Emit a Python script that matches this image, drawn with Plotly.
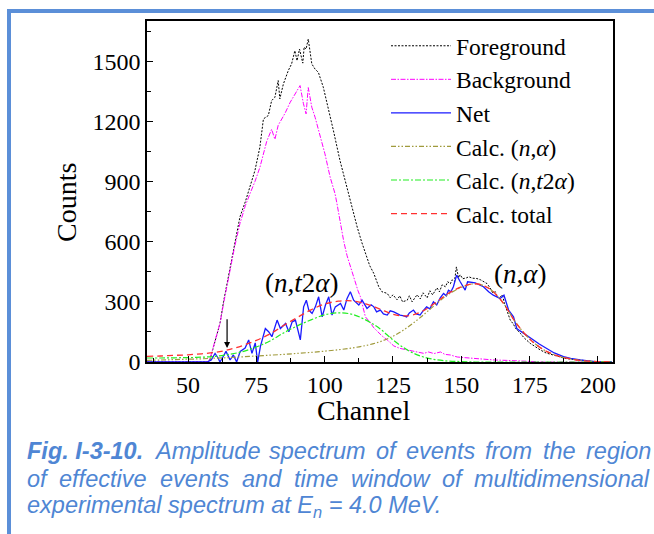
import plotly.graph_objects as go

# ---------------- data ----------------
fg_ch = [35, 57, 58, 60, 61.7, 63, 65.4, 67, 69, 71, 72.7, 74.5, 76.3, 77.6, 79.4, 80.6, 81.8, 83, 83.6,
         84.9, 86.7, 87.9, 89.1, 89.9, 90.8, 92, 92.5, 93.2, 94, 95.3, 96.5, 97.7, 99.5, 101.3, 103.2,
         105.6, 108.1, 110, 111.9, 113.5, 114.9, 116.5, 118, 119, 119.8, 121, 122.9, 124, 125, 126.5,
         127.5, 128.5, 130.2, 131, 132, 133.8, 135, 136, 137.5, 138.5, 139.5, 141.1, 142, 143, 144.2,
         145, 146, 146.6, 147.5, 148.2, 149, 149.6, 150.5, 152, 152.7, 154, 155.7, 157, 158.5, 159.4,
         160.5, 161.5, 162.5, 163.1, 164, 165, 165.8, 166.5, 167.9, 169, 170, 171.6, 173, 175.2, 177,
         178.9, 181, 183.8, 186, 188, 191, 194, 198, 202, 205]
fg_counts = [0, 0, 10, 110, 192, 300, 474, 590, 723, 800, 880, 955, 1071, 1212, 1229, 1303, 1320, 1403, 1312,
             1386, 1453, 1486, 1552, 1502, 1560, 1490, 1570, 1560, 1610, 1486, 1460, 1444, 1370, 1270, 1154,
             1005, 872, 770, 673, 600, 541, 480, 441, 400, 375, 350, 342, 320, 335, 310,
             330, 300, 308, 330, 300, 335, 315, 345, 320, 355, 335, 370, 350, 385, 375,
             400, 390, 410, 400, 474, 420, 435, 415, 420, 425, 418, 416, 410, 400, 391,
             370, 345, 350, 325, 320, 335, 292, 260, 209, 190, 165, 143, 120, 93, 75,
             60, 45, 35, 25, 18, 13, 8, 3, 0, 0]

bg_ch = [35, 57, 58, 60, 61.7, 63, 65.4, 67, 69, 71, 72.7, 74.5, 76.3, 77.6, 78.8, 80.6, 81.8, 83, 85.5,
         87.4, 89.2, 91, 92.2, 93.2, 94, 95.3, 96.5, 98.3, 100.1, 102, 103.8, 104.5, 105.8, 107, 108.2,
         109.4, 110.5, 111.3, 112.2, 113.1, 114, 114.9, 116.5, 118, 119.5, 121, 122.9, 125.3, 127.5,
         130.2, 133, 136.3, 138, 140, 142.4, 144, 146, 148.5, 151, 154.6, 158, 162, 166.7, 170, 175,
         180, 205]
bg_counts = [0, 0, 15, 110, 192, 290, 460, 570, 690, 780, 840, 900, 970, 1040, 1100, 1160, 1110, 1180, 1240,
             1295, 1337, 1378, 1290, 1237, 1368, 1270, 1220, 1129, 1038, 922, 839, 790, 690, 600, 530,
             474, 430, 391, 355, 325, 270, 225, 200, 170, 150, 130, 110, 80, 68,
             60, 55, 43, 50, 42, 50, 38, 35, 25, 22, 17, 15, 10, 8, 5, 3,
             0, 0]

net_ch = [35, 57, 58.5, 59.9, 61, 61.7, 63, 63.9, 65.4, 66.6, 67.8, 69.1, 70.9, 72.2, 73.4, 74.6, 75.5,
          76.5, 78.3, 79.5, 80.7, 82.6, 83.8, 85.7, 86.9, 88.1, 89.3, 89.9, 91.1, 92.3, 93.3, 94.2, 95.4,
          96.6, 97.8, 99.1, 100.3, 101.5, 102.7, 103.9, 105.8, 107, 108.2, 109.4, 110.6, 112.5, 113.7,
          115.5, 117, 118, 119, 120.4, 121.5, 122.9, 124, 125.3, 126.5, 127.6, 129, 130, 131, 132.5,
          133.5, 134.9, 136, 137.3, 138.5, 139.8, 141, 142.3, 143.5, 144.5, 145.3, 146.2, 147.1, 148.3,
          149.6, 150.5, 151.4, 152.3, 153.5, 155.1, 156.5, 158.1, 160, 161.7, 163, 164.2, 165.6, 166.5,
          167.3, 169.1, 170.3, 171.5, 172.8, 174.5, 176.4, 178.5, 181.3, 184, 187.4, 190, 193.5, 196,
          199.6, 205]
net_counts = [0, 0, 10, 43, 20, 0, 30, 53, 10, 35, 0, 53, 70, 110, 43, 95, 0,
              78, 167, 151, 126, 209, 167, 192, 151, 200, 209, 176, 110, 275, 308, 259, 242,
              275, 325, 225, 284, 325, 234, 275, 292, 259, 317, 350, 308, 284, 308,
              267, 285, 275, 250, 259, 240, 234, 255, 250, 240, 234, 230, 225, 245, 259,
              240, 234, 255, 275, 265, 300, 284, 320, 342, 330, 358, 350, 375, 433,
              400, 380, 358, 400, 398, 395, 385, 375, 350, 333, 325, 317, 333, 290,
              259, 225, 167, 155, 142, 125, 110, 90, 68, 45, 27, 18, 10, 5,
              0, 0]

calc_ch = [35, 40, 45, 50, 55, 60, 65, 70, 75, 80, 85, 90, 95, 100, 105, 110, 115, 120, 125, 130,
           135, 140, 145, 150, 155, 160, 165, 170, 175, 180, 185, 190, 195, 200, 205]
calc_na = [8, 10, 12, 14, 16, 19, 22, 26, 30, 34, 38, 43, 48, 54, 61, 70, 82, 100, 128, 170,
           222, 280, 335, 372, 390, 368, 300, 195, 115, 62, 32, 15, 6, 2, 1]
calc_nt2a = [20, 20, 21, 22, 24, 28, 38, 52, 75, 105, 145, 180, 210, 235, 245, 238, 210, 168, 110, 62,
             30, 13, 5, 2, 0, 0, 0, 0, 0, 0, 0, 0, 0, 0, 0]
calc_total = [28, 30, 33, 36, 41, 48, 62, 82, 108, 140, 182, 222, 260, 289, 303, 305, 290, 265, 238, 230,
              248, 290, 340, 374, 390, 368, 300, 195, 115, 62, 32, 15, 6, 2, 1]

x_ticks = [50, 75, 100, 125, 150, 175, 200]
y_ticks = [0, 300, 600, 900, 1200, 1500]

names = ["Foreground", "Background", "Net",
         "Calc. (<i>n</i>,<i>α</i>)", "Calc. (<i>n</i>,<i>t</i>2<i>α</i>)", "Calc. total"]

# ---------------- layout helpers ----------------
W, H = 654, 534
ML, MR, MT, MB = 147, 41, 21, 172
PW, PH = W - ML - MR, H - MT - MB


def px_x(px):
    return (px - ML) / PW


def px_y(py):
    return (H - MB - py) / PH


SERIF = "Liberation Serif, Times New Roman, serif"
SANS = "Liberation Sans, Arial, sans-serif"
CAP = "#4f86d4"
CAP_SIZE = 23.5

fig = go.Figure()
fig.add_trace(go.Scatter(x=fg_ch, y=fg_counts, mode="lines", name=names[0],
                         line=dict(color="#000000", width=1, dash="2px,1.5px")))
fig.add_trace(go.Scatter(x=bg_ch, y=bg_counts, mode="lines", name=names[1],
                         line=dict(color="#ff00ff", width=1, dash="5px,1.5px,1.5px,1.5px")))
fig.add_trace(go.Scatter(x=net_ch, y=net_counts, mode="lines", name=names[2],
                         line=dict(color="#1a1aff", width=1.3)))
fig.add_trace(go.Scatter(x=calc_ch, y=calc_na, mode="lines", name=names[3], line_shape="spline",
                         line=dict(color="#a09a3c", width=1.2, dash="5px,2px,1.5px,2px,1.5px,2px")))
fig.add_trace(go.Scatter(x=calc_ch, y=calc_nt2a, mode="lines", name=names[4], line_shape="spline",
                         line=dict(color="#22ee22", width=1.2, dash="6px,2px,2px,2px")))
fig.add_trace(go.Scatter(x=calc_ch, y=calc_total, mode="lines", name=names[5], line_shape="spline",
                         line=dict(color="#ff3030", width=1.3, dash="6px,4px")))

axis_common = dict(showline=True, mirror=True, linecolor="black", linewidth=1.5,
                   showgrid=False, zeroline=False, ticks="inside", ticklen=6, tickwidth=1.2,
                   tickcolor="black", tickfont=dict(family=SERIF, size=24, color="black"))

fig.update_xaxes(range=[35, 205.5], tickvals=x_ticks, ticktext=[str(v) for v in x_ticks],
                 minor=dict(ticks="inside", tickvals=[v + 12.5 for v in [25] + x_ticks],
                            ticklen=4, tickwidth=1.2, tickcolor="black"),
                 **axis_common)
fig.update_yaxes(range=[0, 1700], tickvals=y_ticks, ticktext=[str(v) for v in y_ticks],
                 minor=dict(ticks="inside", tickvals=[v + 150 for v in y_ticks],
                            ticklen=4, tickwidth=1.2, tickcolor="black"),
                 **axis_common)

annotations = [
    dict(text="Channel", x=px_x(364), y=px_y(410), xref="paper", yref="paper", showarrow=False,
         xanchor="center", yanchor="middle", font=dict(family=SERIF, size=28, color="black")),
    dict(text="Counts", x=px_x(66), y=px_y(203), xref="paper", yref="paper", showarrow=False,
         xanchor="center", yanchor="middle", textangle=-90,
         font=dict(family=SERIF, size=28, color="black")),
    dict(text="(<i>n</i>,<i>t</i>2<i>α</i>)", x=91.7, y=393, xref="x", yref="y", showarrow=False,
         xanchor="center", yanchor="middle", font=dict(family=SERIF, size=27, color="black")),
    dict(text="(<i>n</i>,<i>α</i>)", x=171.5, y=438, xref="x", yref="y", showarrow=False,
         xanchor="center", yanchor="middle", font=dict(family=SERIF, size=27, color="black")),
    dict(text="", x=64.3, y=70, ax=64.3, ay=220, xref="x", yref="y", axref="x", ayref="y",
         showarrow=True, arrowhead=2, arrowsize=1, arrowwidth=1.2, arrowcolor="black"),
]

# caption: justified lines 1-2 placed word by word, last line left aligned
caption_words = [
    ("<b>Fig. I-3-10.</b>", 25, 451), ("Amplitude", 151.5, 451), ("spectrum", 266.5, 451),
    ("of", 373.5, 451), ("events", 403.5, 451), ("from", 483, 451), ("the", 540.5, 451),
    ("region", 583.5, 451),
    ("of", 25, 479), ("effective", 57, 479), ("events", 157.5, 479), ("and", 239.5, 479),
    ("time", 291.5, 479), ("window", 348.5, 479), ("of", 439.5, 479), ("multidimensional", 471.5, 479),
    ("experimental spectrum at E<sub>n</sub> = 4.0 MeV.", 25, 506),
]
for txt, xp, yp in caption_words:
    annotations.append(dict(text="<i>" + txt + "</i>", x=px_x(xp), y=px_y(yp), xref="paper", yref="paper",
                            xanchor="left", yanchor="middle", showarrow=False,
                            font=dict(family=SANS, size=CAP_SIZE, color=CAP)))

shapes = [
    dict(type="line", xref="paper", yref="paper", x0=px_x(7), x1=px_x(660), y0=px_y(11), y1=px_y(11),
         line=dict(color="#5b8fd8", width=4)),
    dict(type="line", xref="paper", yref="paper", x0=px_x(9), x1=px_x(9), y0=px_y(9), y1=px_y(540),
         line=dict(color="#5b8fd8", width=4)),
]

fig.update_layout(
    width=W, height=H, margin=dict(l=ML, r=MR, t=MT, b=MB),
    paper_bgcolor="white", plot_bgcolor="white",
    showlegend=True,
    legend=dict(x=px_x(386), y=px_y(24), xanchor="left", yanchor="top",
                font=dict(family=SERIF, size=23.5, color="black"),
                bgcolor="rgba(0,0,0,0)", borderwidth=0, itemwidth=60,
                tracegroupgap=0),
    annotations=annotations, shapes=shapes,
)

fig.write_html("out.html")
